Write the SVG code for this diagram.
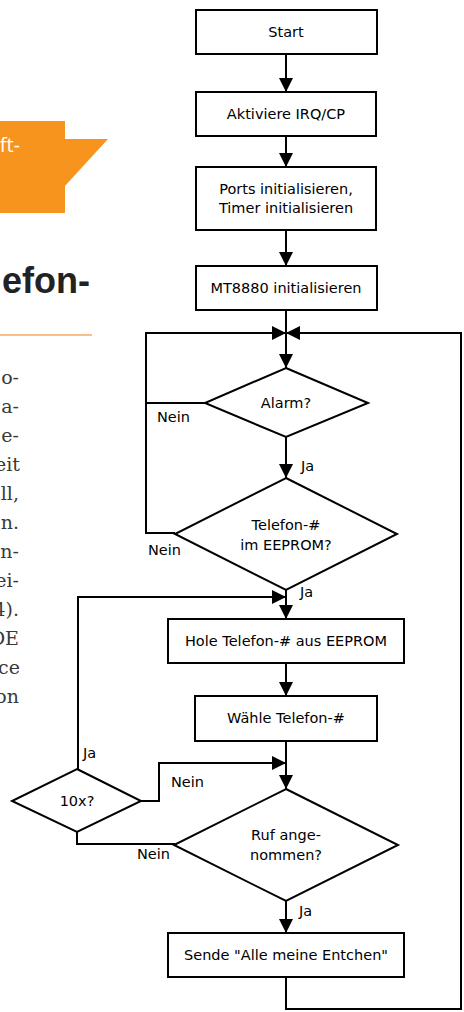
<svg xmlns="http://www.w3.org/2000/svg" width="464" height="1012" viewBox="0 0 464 1012">
<defs>
<marker id="ah" markerUnits="userSpaceOnUse" markerWidth="14" markerHeight="14" refX="14" refY="7" orient="auto">
<path d="M0,0 L14,7 L0,14 z" fill="#000"/>
</marker>
</defs>
<style>
.box{fill:#fff;stroke:#000;stroke-width:2}
.t{font-family:"DejaVu Sans",Verdana,sans-serif;font-size:14.5px;fill:#000;text-anchor:middle}
.lb{font-family:"DejaVu Sans",Verdana,sans-serif;font-size:14.5px;fill:#000}
.c{fill:none;stroke:#000;stroke-width:2}
.body{font-family:"DejaVu Serif","Liberation Serif",serif;font-size:19px;fill:#3a3a3a;text-anchor:end}
</style>
<rect width="464" height="1012" fill="#fff"/>
<g id="page-bg">
<rect x="0" y="121" width="65" height="92" fill="#f7941e"/>
<polygon points="64,139 108,139 64,187" fill="#f7941e"/>
<text x="20" y="152" font-family="'Open Sans',sans-serif" font-size="20" fill="#fff" text-anchor="end">ft-</text>
<text x="90" y="293" font-family="'Liberation Sans',Arial,sans-serif" font-size="36" font-weight="bold" fill="#222" text-anchor="end">efon-</text>
<line x1="0" y1="335" x2="92" y2="335" stroke="#f4a95c" stroke-width="1.5"/>
<text class="body" x="19" y="384">o-</text>
<text class="body" x="19" y="413">a-</text>
<text class="body" x="19" y="442">e-</text>
<text class="body" x="20" y="471">eit</text>
<text class="body" x="19" y="500">ll,</text>
<text class="body" x="19" y="529">n.</text>
<text class="body" x="19" y="558">n-</text>
<text class="body" x="19" y="587">ei-</text>
<text class="body" x="19" y="616">4).</text>
<text class="body" x="19" y="645">DE</text>
<text class="body" x="20" y="674">ce</text>
<text class="body" x="19" y="703">on</text>
</g>
<g id="connectors">
<line class="c" x1="286" y1="54" x2="286" y2="92" marker-end="url(#ah)"/>
<line class="c" x1="286" y1="136" x2="286" y2="167" marker-end="url(#ah)"/>
<line class="c" x1="286" y1="230" x2="286" y2="266" marker-end="url(#ah)"/>
<line class="c" x1="286" y1="310" x2="286" y2="368" marker-end="url(#ah)"/>
<path class="c" d="M205,403 H146"/>
<path class="c" d="M175,533 H146 V333 H286" marker-end="url(#ah)"/>
<path class="c" d="M286,977 V1009 H461 V333 H286" marker-end="url(#ah)"/>
<line class="c" x1="286" y1="437" x2="286" y2="478" marker-end="url(#ah)"/>
<line class="c" x1="286" y1="590" x2="286" y2="619" marker-end="url(#ah)"/>
<path class="c" d="M78,769 V597 H286" marker-end="url(#ah)"/>
<line class="c" x1="286" y1="663" x2="286" y2="696" marker-end="url(#ah)"/>
<line class="c" x1="286" y1="741" x2="286" y2="789" marker-end="url(#ah)"/>
<path class="c" d="M141,801 H159 V763 H286" marker-end="url(#ah)"/>
<path class="c" d="M77,832 V844 H175"/>
<line class="c" x1="286" y1="901" x2="286" y2="933" marker-end="url(#ah)"/>
<text class="lb" x="157" y="422">Nein</text>
<text class="lb" x="301" y="471">Ja</text>
<text class="lb" x="148" y="555">Nein</text>
<text class="lb" x="300" y="597">Ja</text>
<text class="lb" x="83" y="758">Ja</text>
<text class="lb" x="171" y="787">Nein</text>
<text class="lb" x="137" y="859">Nein</text>
<text class="lb" x="299" y="916">Ja</text>
</g>
<g id="start">
<rect class="box" x="196" y="10" width="181" height="44"/>
<text class="t" x="286" y="37">Start</text>
</g>
<g id="irq">
<rect class="box" x="196" y="92" width="180" height="44"/>
<text class="t" x="286" y="119">Aktiviere IRQ/CP</text>
</g>
<g id="ports">
<rect class="box" x="196" y="167" width="180" height="63"/>
<text class="t" x="286" y="194">Ports initialisieren,</text>
<text class="t" x="286" y="213">Timer initialisieren</text>
</g>
<g id="mt8880">
<rect class="box" x="196" y="266" width="181" height="44"/>
<text class="t" x="286" y="293">MT8880 initialisieren</text>
</g>
<g id="alarm">
<polygon class="box" points="286,368 368,403 286,437 205,403"/>
<text class="t" x="286" y="408">Alarm?</text>
</g>
<g id="telefon">
<polygon class="box" points="286,478 397,534 286,590 175,534"/>
<text class="t" x="286" y="530">Telefon-#</text>
<text class="t" x="286" y="550">im EEPROM?</text>
</g>
<g id="hole">
<rect class="box" x="168" y="619" width="236" height="44"/>
<text class="t" x="286" y="646">Hole Telefon-# aus EEPROM</text>
</g>
<g id="waehle">
<rect class="box" x="195" y="696" width="182" height="45"/>
<text class="t" x="286" y="723">Wähle Telefon-#</text>
</g>
<g id="zehnx">
<polygon class="box" points="77,769 141,801 77,832 12,801"/>
<text class="t" x="77" y="806">10x?</text>
</g>
<g id="ruf">
<polygon class="box" points="286,789 398,845 286,901 174,845"/>
<text class="t" x="286" y="840">Ruf ange-</text>
<text class="t" x="286" y="860">nommen?</text>
</g>
<g id="sende">
<rect class="box" x="168" y="933" width="236" height="44"/>
<text class="t" x="286" y="960">Sende "Alle meine Entchen"</text>
</g>
</svg>
